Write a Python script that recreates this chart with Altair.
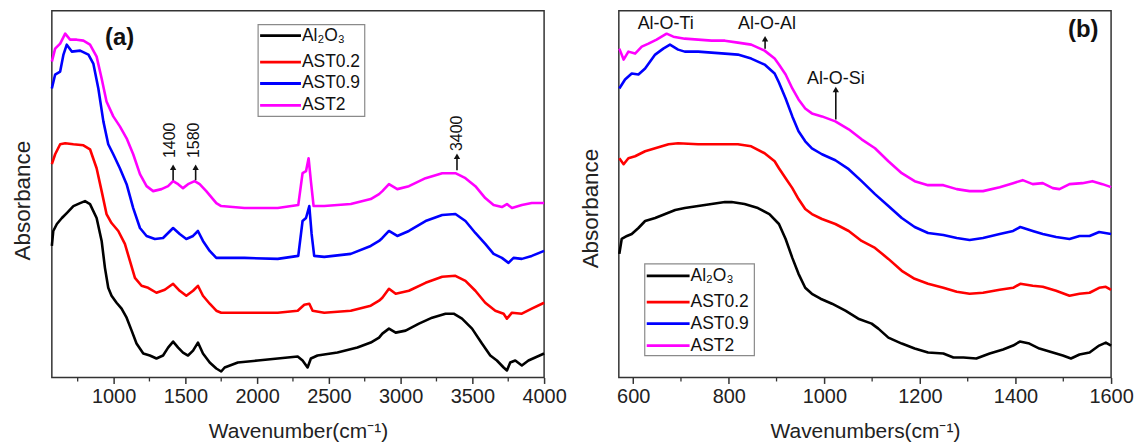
import altair as alt
import pandas as pd

SERIES = ["Al₂O₃", "AST0.2", "AST0.9", "AST2"]
COLORS = ["#000000", "#ff0000", "#0000ff", "#ff00ff"]
W, H = 494, 368
FONT = "Liberation Sans"

# ---------------- panel (a) ----------------
a_xdom = [570, 4000]
a_major = [1000, 1500, 2000, 2500, 3000, 3500, 4000]
a_minor = [750, 1250, 1750, 2250, 2750, 3250, 3750]

a_al2o3 = [(570,132),(580,147),(605,154),(640,160),(674,165),(720,172),(767,175),(801,177),(836,174),
           (882,160),(917,137),(940,110),(963,90),(986,82),(1021,75),(1056,69),(1091,60),(1126,47),
           (1160,34),(1207,24),(1253,22),(1299,19),(1345,22),(1380,30),(1415,36),(1450,30),(1484,25),
           (1519,22),(1554,27),(1588,35),(1623,24),(1670,15),(1716,9),(1750,6),(1774,10),(1866,15),
           (2005,17),(2144,19),(2283,21),(2317,17),(2352,10),(2375,19),(2421,22),(2560,25),(2699,30),
           (2792,35),(2850,40),(2873,44),(2919,49),(2966,45),(3035,47),(3128,54),(3220,60),(3313,64),
           (3370,64),(3428,59),(3498,49),(3567,34),(3625,22),(3671,17),(3718,10),(3741,7),(3764,15),
           (3799,17),(3845,12),(3891,17),(3938,20),(4000,24)]
a_ast02 = [(570,214),(593,224),(628,234),(663,235),(720,234),(790,233),(836,229),(882,210),(917,187),
           (951,164),(986,155),(1033,147),(1079,134),(1114,117),(1149,100),(1195,92),(1241,90),(1299,85),
           (1357,88),(1415,94),(1461,87),(1507,82),(1554,87),(1588,92),(1623,82),(1670,74),(1716,67),
           (1750,65),(1912,65),(2144,65),(2283,67),(2329,73),(2364,74),(2387,67),(2468,65),(2653,67),
           (2792,72),(2850,77),(2873,80),(2919,89),(2966,84),(3058,87),(3174,95),(3290,101),(3382,102),
           (3452,97),(3521,87),(3590,75),(3660,67),(3718,64),(3741,59),(3776,65),(3845,64),(3914,69),
           (4000,75)]
a_ast09 = [(570,290),(593,304),(628,307),(651,324),(674,334),(709,327),(767,328),(825,324),(859,315),
           (894,290),(929,257),(963,234),(998,224),(1044,210),(1091,194),(1137,170),(1184,150),(1230,142),
           (1288,139),(1345,140),(1415,150),(1461,144),(1507,139),(1554,142),(1588,147),(1623,137),
           (1670,127),(1716,120),(1750,120),(1912,120),(2144,119),(2287,122),(2317,157),(2341,160),
           (2364,172),(2380,144),(2398,122),(2468,121),(2653,124),(2792,132),(2850,137),(2873,140),
           (2919,147),(2977,142),(3058,147),(3174,157),(3290,163),(3382,164),(3452,157),(3521,145),
           (3590,134),(3648,124),(3706,120),(3752,115),(3787,120),(3845,119),(3914,122),(4000,127)]
a_ast2 = [(570,317),(593,330),(628,335),(663,345),(697,339),(743,339),(790,338),(836,334),(882,322),
          (917,300),(951,277),(998,262),(1044,252),(1091,240),(1137,224),(1184,204),(1230,192),(1276,187),
          (1334,189),(1380,192),(1415,197),(1450,194),(1484,190),(1519,194),(1565,197),(1600,194),
          (1646,187),(1716,175),(1750,172),(1912,170),(2144,170),(2287,173),(2317,205),(2341,207),
          (2359,220),(2375,197),(2394,172),(2468,172),(2653,174),(2792,179),(2850,184),(2873,187),
          (2919,194),(2977,189),(3058,192),(3174,200),(3290,205),(3382,205),(3452,200),(3521,192),
          (3590,180),(3648,173),(3706,171),(3741,174),(3776,170),(3845,173),(3914,175),(4000,175)]

a_labels = ["1400", "1580", "3400"]
a_label_wn = [1392, 1560, 3390]
a_label_ab = [238, 238, 245]
a_arrow_wn = [1415, 1572, 3393]
a_arrow_from = [198, 198, 208]
a_arrow_to = [211, 211, 222]

# ---------------- panel (b) ----------------
b_xdom = [570, 1600]
b_major = [600, 800, 1000, 1200, 1400, 1600]
b_minor = [700, 900, 1100, 1300, 1500]

b_al2o3 = [(571,124),(576,139),(587,142),(597,144),(611,150),(625,157),(646,160),(667,164),(688,168),
           (708,170),(736,172),(764,174),(792,176),(806,176),(833,174),(861,170),(885,164),(905,154),
           (919,139),(933,120),(946,104),(960,90),(974,84),(992,79),(1016,74),(1044,67),(1071,59),
           (1099,54),(1113,49),(1134,40),(1162,34),(1189,29),(1217,25),(1249,24),(1270,20),(1291,20),
           (1318,19),(1346,24),(1374,28),(1395,32),(1409,36),(1429,34),(1450,29),(1478,25),(1499,22),
           (1516,19),(1534,23),(1555,25),(1575,32),(1589,35),(1600,32)]
b_ast02 = [(571,220),(580,214),(590,220),(604,222),(625,227),(646,230),(674,234),(694,235),(736,234),
           (778,234),(819,234),(847,232),(875,225),(896,217),(905,210),(919,200),(933,190),(946,179),
           (960,169),(974,164),(995,159),(1023,154),(1051,147),(1078,137),(1106,130),(1134,119),
           (1162,107),(1189,99),(1217,94),(1249,90),(1277,86),(1304,84),(1332,85),(1367,88),(1395,90),
           (1410,94),(1436,92),(1457,91),(1485,87),(1513,82),(1534,84),(1555,85),(1575,90),(1589,91),
           (1600,88)]
b_ast09 = [(571,290),(583,299),(597,305),(611,304),(625,310),(646,324),(663,330),(677,334),(694,329),
           (708,327),(736,327),(764,326),(792,325),(819,324),(847,320),(875,314),(896,305),(905,296),
           (919,280),(933,262),(946,247),(960,237),(974,230),(995,224),(1023,218),(1051,209),(1078,197),
           (1106,184),(1134,172),(1162,160),(1189,151),(1217,145),(1249,143),(1277,140),(1304,138),
           (1332,140),(1367,144),(1395,147),(1410,151),(1436,147),(1457,144),(1485,141),(1513,139),
           (1534,142),(1555,142),(1575,146),(1600,144)]
b_ast2 = [(571,330),(580,319),(590,327),(604,325),(618,332),(632,335),(649,339),(670,345),(684,342),
          (708,340),(736,339),(764,338),(792,338),(819,336),(847,334),(875,328),(896,320),(905,314),
          (919,304),(933,290),(946,279),(960,270),(974,265),(995,262),(1023,257),(1051,249),(1078,239),
          (1106,230),(1134,217),(1162,205),(1189,197),(1217,193),(1249,193),(1277,189),(1304,187),
          (1332,187),(1367,191),(1395,195),(1415,198),(1436,194),(1457,195),(1478,190),(1492,189),
          (1513,194),(1540,195),(1561,197),(1582,194),(1600,191)]

b_labels = ["Al-O-Ti", "Al-O-Al", "Al-O-Si"]
b_label_wn = [668, 880, 1024]
b_label_ab = [355, 355, 300]
b_arrow_wn = [876, 1024]
b_arrow_from = [330, 259]
b_arrow_to = [340, 289]


def lines_df(lists):
    rows = []
    for name, pts in zip(SERIES, lists):
        for wn, ab in pts:
            rows.append({"series": name, "wn": wn, "ab": ab})
    return pd.DataFrame(rows)


def panel(lists, xdom, major, minor, xtitle, title_pad, title_y,
          labels, label_wn, label_ab, label_angle, label_size,
          arrow_wn, arrow_from, arrow_to, tag, tag_px, leg_box, leg_line, leg_row0):
    xs = alt.Scale(domain=xdom, nice=False, zero=False)
    ys = alt.Scale(domain=[0, H], nice=False, zero=False)
    cs = alt.Scale(domain=SERIES, range=COLORS)

    def px_x(p):
        return xdom[0] + p * (xdom[1] - xdom[0]) / W

    def px_y(p):
        return H - p

    xax = alt.Axis(values=major, format="d", title=xtitle, grid=False, domain=False,
                   tickSize=6, tickColor="#333", tickWidth=1.5, labelFontSize=20,
                   labelColor="#222", labelPadding=3, labelFlush=False, labelOverlap=False,
                   titleFontSize=21, titleFontWeight="normal", titleColor="#222", titlePadding=14,
                   labelFont=FONT, titleFont=FONT)
    yax = alt.Axis(title="Absorbance", labels=False, ticks=False, domain=False, grid=False,
                   titleFontSize=22.5, titleFontWeight="normal", titleColor="#222",
                   titlePadding=title_pad, titleFont=FONT, titleY=title_y)

    def X(field):
        return alt.X(field, scale=xs, axis=xax, title=xtitle)

    def Y(field):
        return alt.Y(field, scale=ys, axis=yax, title="Absorbance")

    base_lines = alt.Chart(lines_df(lists)).mark_line(strokeWidth=2.6, strokeJoin="round").encode(
        x=X("wn:Q"), y=Y("ab:Q"),
        color=alt.Color("series:N", scale=cs, legend=None),
    )

    minor_ticks = alt.Chart(pd.DataFrame({"wn": minor})).mark_rule(
        color="#333", strokeWidth=1.3).encode(
        x=X("wn:Q"), y=alt.value(H), y2=alt.value(H + 4))

    ann = alt.Chart(pd.DataFrame({"t": labels, "wn": label_wn, "ab": label_ab})).mark_text(
        angle=label_angle, fontSize=label_size, font=FONT, color="#111",
        align="center", baseline="middle").encode(
        x=X("wn:Q"), y=Y("ab:Q"), text="t:N")

    adf = pd.DataFrame({"wn": arrow_wn, "y0": arrow_from, "y1": arrow_to})
    shafts = alt.Chart(adf).mark_rule(color="#111", strokeWidth=1.6).encode(
        x=X("wn:Q"), y=Y("y0:Q"), y2="y1:Q")
    heads = alt.Chart(adf).mark_point(shape="triangle-up", filled=True, size=40,
                                      color="#111", opacity=1).encode(
        x=X("wn:Q"), y=Y("y1:Q"))

    tag_mark = alt.Chart(pd.DataFrame({"t": [tag]})).mark_text(
        fontSize=24, fontWeight="bold", font=FONT, color="#111",
        align="center", baseline="middle").encode(
        x=alt.value(tag_px[0]), y=alt.value(tag_px[1]), text="t:N")

    box = alt.Chart(pd.DataFrame({"d": [0]})).mark_rect(
        fill="white", stroke="#8a8a8a", strokeWidth=1.2).encode(
        x=alt.value(leg_box[0]), x2=alt.value(leg_box[1]),
        y=alt.value(leg_box[2]), y2=alt.value(leg_box[3]))

    offsets = [0, 26.5, 48, 70]
    ldf = pd.DataFrame({
        "series": SERIES,
        "x0": [px_x(leg_line[0])] * 4,
        "x1": [px_x(leg_line[1])] * 4,
        "xt": [px_x(leg_line[1] + 1)] * 4,
        "y": [px_y(leg_row0 + o) for o in offsets],
    })
    leg_rules = alt.Chart(ldf).mark_rule(strokeWidth=2.8).encode(
        x=X("x0:Q"), x2="x1:Q", y=Y("y:Q"),
        color=alt.Color("series:N", scale=cs, legend=None))
    leg_text = alt.Chart(ldf).mark_text(align="left", baseline="middle", fontSize=17.5,
                                        font=FONT, color="#111").encode(
        x=X("xt:Q"), y=Y("y:Q"), text="series:N")

    return alt.layer(base_lines, minor_ticks, shafts, heads, ann, tag_mark,
                     box, leg_rules, leg_text).properties(width=W, height=H)


pa = panel([a_al2o3, a_ast02, a_ast09, a_ast2], a_xdom, a_major, a_minor,
           "Wavenumber(cm⁻¹)", 17, 190,
           a_labels, a_label_wn, a_label_ab, 270, 16,
           a_arrow_wn, a_arrow_from, a_arrow_to,
           "(a)", (68, 27), (207, 314, 14, 106), (209, 250), 25)

pb = panel([b_al2o3, b_ast02, b_ast09, b_ast2], b_xdom, b_major, b_minor,
           "Wavenumbers(cm⁻¹)", 16, 198,
           b_labels, b_label_wn, b_label_ab, 0, 18,
           b_arrow_wn, b_arrow_from, b_arrow_to,
           "(b)", (466, 19), (26, 136, 254, 346), (28, 71), 266)

chart = alt.hconcat(pa, pb, spacing=75, bounds="flush").configure(
    font=FONT
).configure_view(stroke="#333", strokeWidth=1.5).properties(
    padding={"left": 3, "top": 1, "right": 2, "bottom": 0}
)

chart.save("out.html", embed_options={"renderer": "svg", "actions": False})
